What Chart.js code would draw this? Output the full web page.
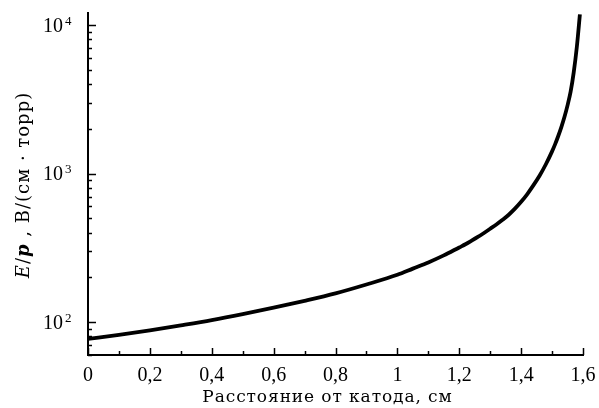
<!DOCTYPE html>
<html>
<head>
<meta charset="utf-8">
<script src="https://cdn.jsdelivr.net/npm/chart.js@4"></script>
<style>
  html, body { margin: 0; padding: 0; background: #fff; }
  #wrap { width: 599px; height: 408px; }
</style>
</head>
<body>
<div id="wrap"><canvas id="chart" width="599" height="408"></canvas></div>
<script>
// расстояние от катода, см
const distance = [0, 0.1, 0.2, 0.3, 0.4, 0.5, 0.6, 0.7, 0.8, 0.9, 1.0, 1.05, 1.1, 1.15, 1.2, 1.22, 1.24, 1.26, 1.28, 1.3, 1.32, 1.34, 1.36, 1.38, 1.4, 1.42, 1.44, 1.46, 1.48, 1.5, 1.51, 1.52, 1.53, 1.54, 1.55, 1.56, 1.57, 1.58, 1.59];
// E/p, В/(см·торр)
const eOverP = [77, 82, 88, 95, 103, 113, 125, 139, 156, 179, 208, 229, 252, 281, 318, 334, 353, 374, 398, 425, 454, 488, 528, 580, 645, 728, 835, 970, 1155, 1410, 1578, 1790, 2056, 2400, 2877, 3556, 4800, 7100, 11800];
const yDecades = [100, 1000, 10000];
const xTitle = 'Расстояние от катода, см';

const NUM_FONT = '"Liberation Serif", serif';
const TXT_FONT = '"DejaVu Serif", serif';

// тики внутрь, подписи осей
const axisExtras = {
  id: 'axisExtras',
  afterDraw(chart) {
    const ctx = chart.ctx;
    const xs = chart.scales.x, ys = chart.scales.y;
    const area = chart.chartArea;
    ctx.save();
    ctx.strokeStyle = '#000';
    ctx.lineWidth = 1.5;

    // X ticks
    for (let i = 0; i <= 16; i++) {
      const px = Math.round(xs.getPixelForValue(i / 10)) + 0.5;
      const len = i % 2 === 0 ? 7 : 4;
      ctx.beginPath();
      ctx.moveTo(px, area.bottom);
      ctx.lineTo(px, area.bottom - len);
      ctx.stroke();
    }

    // Y ticks
    for (let e = 1; e <= 4; e++) {
      for (let m = 1; m <= 9; m++) {
        const v = m * Math.pow(10, e);
        if (v < ys.min || v > ys.max) continue;
        const py = Math.round(ys.getPixelForValue(v)) + 0.5;
        const len = m === 1 ? 8 : 4;
        ctx.beginPath();
        ctx.moveTo(area.left, py);
        ctx.lineTo(area.left + len, py);
        ctx.stroke();
      }
    }

    ctx.fillStyle = '#000';
    ctx.textBaseline = 'alphabetic';

    // Y labels 10^n
    yDecades.forEach(v => {
      const py = ys.getPixelForValue(v);
      const exp = String(Math.round(Math.log10(v)));
      ctx.font = '20px ' + NUM_FONT;
      ctx.textAlign = 'right';
      ctx.fillText('10', 63, py + 6.5);
      ctx.font = '13px ' + NUM_FONT;
      ctx.textAlign = 'left';
      ctx.fillText(exp, 65, py - 0.5);
    });

    // X title
    ctx.font = '17px ' + TXT_FONT;
    ctx.letterSpacing = '0.9px';
    ctx.textAlign = 'center';
    ctx.fillText(xTitle, (area.left + area.right) / 2 - 8, 402);

    // Y title
    const parts = [
      ['italic 18px ' + TXT_FONT, 'E'],
      ['18px ' + TXT_FONT, '/'],
      ['italic bold 18px ' + TXT_FONT, 'p'],
      ['18px ' + TXT_FONT, ' , В/(см · торр)']
    ];
    ctx.letterSpacing = '1px';
    let total = 0;
    parts.forEach(p => { ctx.font = p[0]; total += ctx.measureText(p[1]).width; });
    ctx.translate(29, 185);
    ctx.rotate(-Math.PI / 2);
    let x = -total / 2;
    ctx.textAlign = 'left';
    parts.forEach(p => {
      ctx.font = p[0];
      ctx.fillText(p[1], x, 0);
      x += ctx.measureText(p[1]).width;
    });
    ctx.restore();
  }
};

new Chart(document.getElementById('chart'), {
  type: 'line',
  data: {
    datasets: [{
      data: distance.map((d, i) => ({ x: d, y: eOverP[i] })),
      borderColor: '#000',
      borderWidth: 3.8,
      pointRadius: 0,
      cubicInterpolationMode: 'monotone',
      fill: false
    }]
  },
  options: {
    responsive: false,
    animation: false,
    layout: { padding: { top: 13, right: 16, left: 0, bottom: 0 } },
    plugins: { legend: { display: false }, tooltip: { enabled: false } },
    scales: {
      x: {
        type: 'linear',
        min: 0,
        max: 1.6,
        grid: { display: false },
        border: { display: true, color: '#000', width: 2 },
        ticks: {
          stepSize: 0.1,
          autoSkip: false,
          maxRotation: 0,
          padding: 1,
          color: '#000',
          font: { family: NUM_FONT, size: 20 },
          callback: v => {
            const r = Math.round(v * 10);
            if (r % 2 !== 0) return '';
            return String(r / 10).replace('.', ',');
          }
        },
        afterFit: s => { s.height = 53; }
      },
      y: {
        type: 'logarithmic',
        min: 60,
        max: 12050,
        grid: { display: false },
        border: { display: true, color: '#000', width: 2 },
        ticks: { display: false },
        afterFit: s => { s.width = 88; }
      }
    }
  },
  plugins: [axisExtras]
});
</script>
</body>
</html>
